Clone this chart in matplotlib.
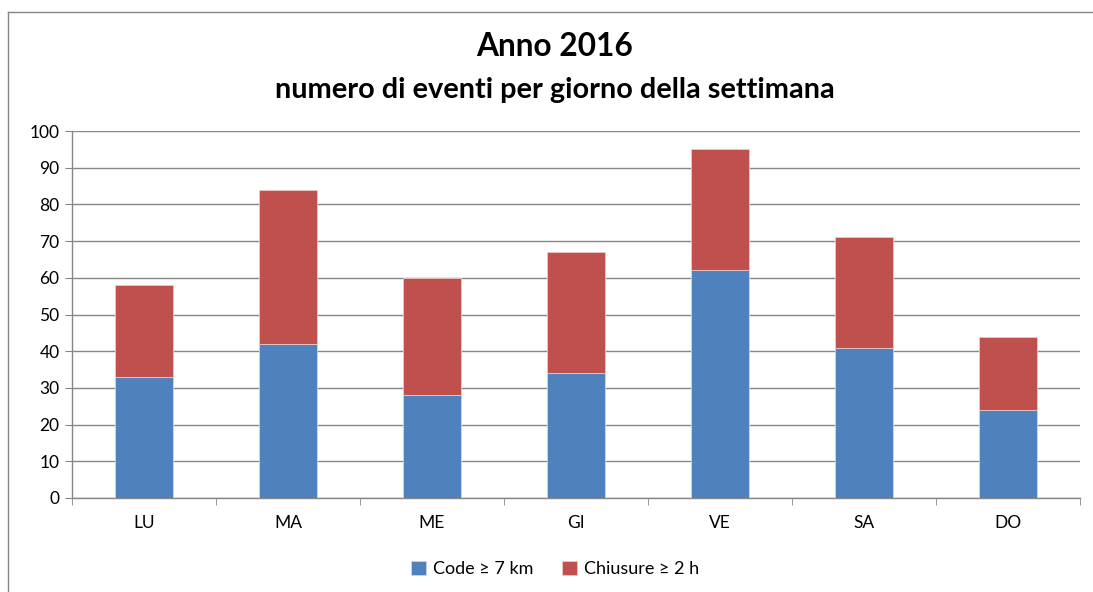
import matplotlib
matplotlib.use("Agg")
import matplotlib.pyplot as plt
from matplotlib.lines import Line2D
import numpy as np

days = ["LU", "MA", "ME", "GI", "VE", "SA", "DO"]
code = [33, 42, 28, 34, 62, 41, 24]
chiusure = [25, 42, 32, 33, 33, 30, 20]
yticks = [0, 10, 20, 30, 40, 50, 60, 70, 80, 90, 100]

plt.rcParams['font.family'] = ['Lato', 'DejaVu Sans']

fig = plt.figure(figsize=(10.93, 5.92), dpi=100)
ax = fig.add_axes([72/1093, 1-498/592, (1080-72)/1093, (498-131)/592])

x = np.arange(len(days))
blue = "#4F81BD"
red = "#C0504D"
ax.bar(x, code, width=0.4, color=blue, edgecolor="#c9d6ea", linewidth=0.6, label="Code ≥ 7 km", zorder=3)
ax.bar(x, chiusure, width=0.4, bottom=code, color=red, edgecolor="#ecc9c8", linewidth=0.6, label="Chiusure ≥ 2 h", zorder=3)

ax.set_xlim(-0.5, len(days) - 0.5)
ax.set_ylim(0, 100)
ax.set_yticks(yticks)
ax.set_yticklabels([str(v) for v in yticks], fontsize=12.5)
ax.set_xticks(x)
ax.set_xticklabels(days, fontsize=12.5)
ax.set_xticks(np.arange(-0.5, len(days), 1), minor=True)
ax.tick_params(axis='x', which='major', length=0, pad=12)
ax.tick_params(axis='x', which='minor', length=5, color="#868686", direction='out')
ax.tick_params(axis='y', length=5, color="#868686", direction='out', pad=4)
ax.grid(axis='y', color="#868686", linewidth=1, zorder=0)
for s in ['top', 'right']:
    ax.spines[s].set_visible(False)
for s in ['left', 'bottom']:
    ax.spines[s].set_color("#868686")
    ax.spines[s].set_linewidth(1)

fig.text(555/1093, 1-47/592, "Anno 2016", ha='center', va='center', fontsize=22.8, fontweight='bold')
fig.text(555/1093, 1-90/592, "numero di eventi per giorno della settimana", ha='center', va='center', fontsize=20.8, fontweight='bold')

leg = fig.legend(loc='center', bbox_to_anchor=(555/1093, 1-569/592), ncol=2, frameon=False,
                 fontsize=13, handlelength=0.8, handleheight=0.8, columnspacing=1.6, handletextpad=0.4)

fig.add_artist(Line2D([8/1093, 1.0], [1-12/592, 1-12/592], transform=fig.transFigure, color="#868686", linewidth=1))
fig.add_artist(Line2D([8/1093, 8/1093], [1-12/592, 0.0], transform=fig.transFigure, color="#868686", linewidth=1))

fig.savefig("out.png", dpi=100)
